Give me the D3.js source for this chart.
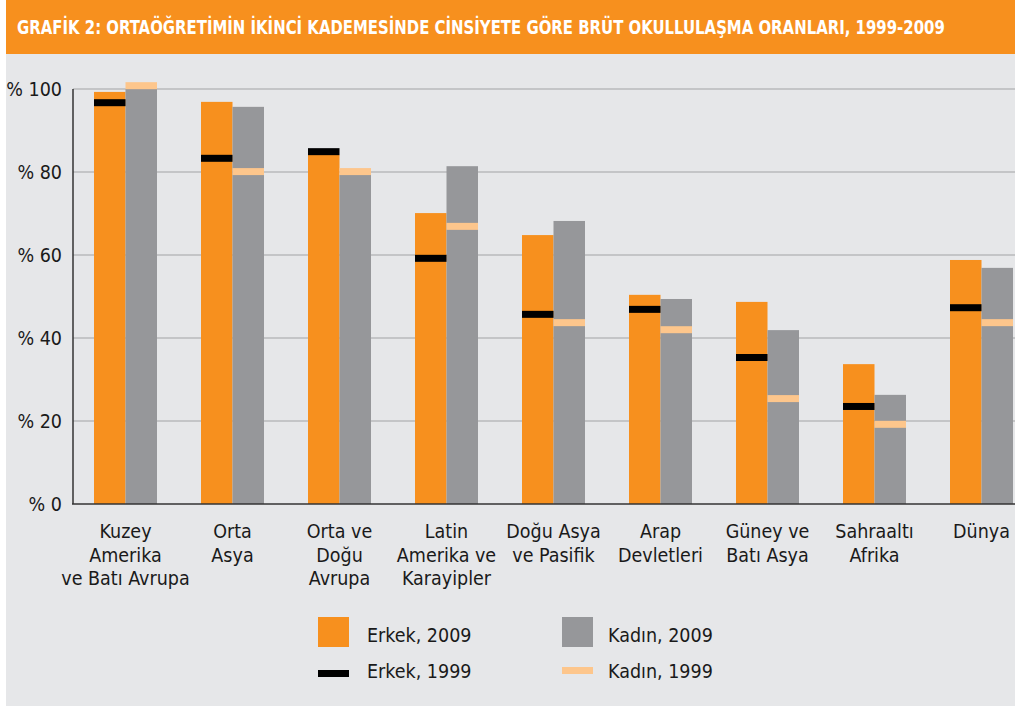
<!DOCTYPE html>
<html>
<head>
<meta charset="utf-8">
<script src="https://cdn.jsdelivr.net/npm/d3@7"></script>
<style>
  html, body { margin: 0; padding: 0; background: #fff; }
  svg { display: block; font-family: "Liberation Sans Narrow", "DejaVu Sans Condensed", "Liberation Sans", sans-serif; }
</style>
</head>
<body>
<svg id="chart" width="1015" height="706"></svg>
<script>
const title = 'GRAFİK 2: ORTAÖĞRETİMİN İKİNCİ KADEMESİNDE CİNSİYETE GÖRE BRÜT OKULLULAŞMA ORANLARI, 1999-2009';

const categories = [
  ['Kuzey', 'Amerika', 've Batı Avrupa'],
  ['Orta', 'Asya'],
  ['Orta ve', 'Doğu', 'Avrupa'],
  ['Latin', 'Amerika ve', 'Karayipler'],
  ['Doğu Asya', 've Pasifik'],
  ['Arap', 'Devletleri'],
  ['Güney ve', 'Batı Asya'],
  ['Sahraaltı', 'Afrika'],
  ['Dünya']
];

const male2009   = [99.3, 96.9, 84.1, 70.1, 64.8, 50.4, 48.7, 33.7, 58.8];
const female2009 = [100.0, 95.7, 79.3, 81.4, 68.2, 49.4, 41.9, 26.3, 56.9];
const male1999   = [96.7, 83.3, 84.9, 59.2, 45.7, 46.9, 35.3, 23.5, 47.3];
const female1999 = [100.8, 80.1, 80.1, 66.9, 43.7, 42.0, 25.4, 19.2, 43.7];

const yTicks = [0, 20, 40, 60, 80, 100];

const legendItems = [
  { label: 'Erkek, 2009', type: 'box', color: '#f7901e' },
  { label: 'Kadın, 2009', type: 'box', color: '#96979a' },
  { label: 'Erkek, 1999', type: 'line', color: '#000000' },
  { label: 'Kadın, 1999', type: 'line', color: '#fdc68c' }
];

const W = 1015, H = 706;
const svg = d3.select('#chart');

// page background + title band
svg.append('rect').attr('x', 6).attr('y', 0).attr('width', W - 6).attr('height', H).attr('fill', '#e6e7e9');
svg.append('rect').attr('x', 6).attr('y', 0).attr('width', W - 6).attr('height', 54).attr('fill', '#f7901e');
const titleText = svg.append('text')
  .attr('x', 0).attr('y', 0)
  .attr('fill', '#fff')
  .attr('font-size', 19)
  .attr('font-weight', 'bold')
  .text(title);
// squeeze the title horizontally so it fills the band like the condensed original
const natural = titleText.node().getComputedTextLength();
titleText.attr('transform', `translate(17,34) scale(${928 / natural},1)`);

const idx = d3.range(categories.length);
const x = d3.scaleBand().domain(idx).range([72, 1035]).padding(0);
const barW = 31.5;
const y = d3.scaleLinear().domain([0, 100]).range([504, 89]);

// gridlines
svg.append('g')
  .selectAll('line')
  .data(yTicks.filter(t => t > 0))
  .join('line')
  .attr('x1', 73).attr('x2', W)
  .attr('y1', d => y(d)).attr('y2', d => y(d))
  .attr('stroke', '#c4c5c7').attr('stroke-width', 2);

// y axis labels
svg.append('g')
  .selectAll('text')
  .data(yTicks)
  .join('text')
  .attr('x', 62).attr('y', d => y(d) + 7)
  .attr('text-anchor', 'end')
  .attr('font-size', 19.5)
  .attr('fill', '#1a1a1a')
  .text(d => '% ' + d);

const groups = svg.append('g')
  .selectAll('g')
  .data(idx)
  .join('g')
  .attr('transform', i => `translate(${x(i) + x.bandwidth() / 2},0)`);

// bars 2009
groups.append('rect')
  .attr('x', -barW).attr('width', barW)
  .attr('y', i => y(male2009[i]))
  .attr('height', i => y(0) - y(male2009[i]))
  .attr('fill', '#f7901e');
groups.append('rect')
  .attr('x', 0).attr('width', barW)
  .attr('y', i => y(female2009[i]))
  .attr('height', i => y(0) - y(female2009[i]))
  .attr('fill', '#96979a');

// 1999 markers
groups.append('rect')
  .attr('x', -barW).attr('width', barW)
  .attr('y', i => y(male1999[i]) - 3.5).attr('height', 7)
  .attr('fill', '#000');
groups.append('rect')
  .attr('x', 0).attr('width', barW)
  .attr('y', i => y(female1999[i]) - 3.5).attr('height', 7)
  .attr('fill', '#fdc68c');

// category labels
groups.append('text')
  .attr('text-anchor', 'middle')
  .attr('font-size', 19.5)
  .attr('fill', '#1a1a1a')
  .selectAll('tspan')
  .data(i => categories[i])
  .join('tspan')
  .attr('x', 0)
  .attr('y', (d, j) => 538 + j * 23.5)
  .text(d => d);

// axes lines
svg.append('line')
  .attr('x1', 73).attr('x2', 73).attr('y1', 89).attr('y2', 504)
  .attr('stroke', '#333').attr('stroke-width', 1.5);
svg.append('line')
  .attr('x1', 72).attr('x2', W).attr('y1', 504).attr('y2', 504)
  .attr('stroke', '#333').attr('stroke-width', 1.5);

// legend
const legend = svg.append('g')
  .selectAll('g')
  .data(legendItems)
  .join('g')
  .attr('transform', (d, i) => `translate(${i % 2 ? 562 : 318},${i < 2 ? 632 : 670})`);

legend.filter(d => d.type === 'box').append('rect')
  .attr('x', 0).attr('y', -15).attr('width', 31).attr('height', 30)
  .attr('fill', d => d.color);
legend.filter(d => d.type === 'line').append('rect')
  .attr('x', 0).attr('y', d => d.color === '#000000' ? 0 : -3).attr('width', 31).attr('height', 7)
  .attr('fill', d => d.color);
legend.append('text')
  .attr('x', (d, i) => i % 2 ? 46 : 49)
  .attr('y', (d, i) => i < 2 ? 10 : 8)
  .attr('font-size', 19.5)
  .attr('fill', '#1a1a1a')
  .text(d => d.label);
</script>
</body>
</html>
